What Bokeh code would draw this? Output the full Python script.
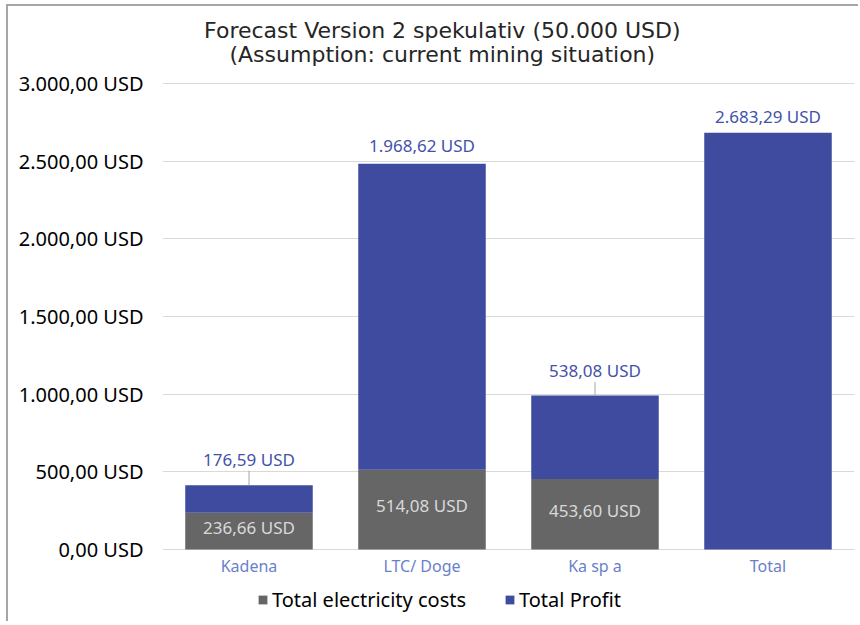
from bokeh.plotting import figure
from bokeh.models import (ColumnDataSource, FactorRange, Range1d, FixedTicker, LabelSet,
                          Label, Legend, LegendItem)
from bokeh.core.properties import value
from bokeh.embed import file_html
from bokeh.resources import INLINE

# ---- data ----
categories = ["Kadena", "LTC/ Doge", "Ka sp a", "Total"]
electricity = [236.66, 514.08, 453.60, 0.0]
profit = [176.59, 1968.62, 538.08, 2683.29]
y_ticks = [0, 500, 1000, 1500, 2000, 2500, 3000]
y_tick_labels = ["0,00 USD", "500,00 USD", "1.000,00 USD", "1.500,00 USD",
                 "2.000,00 USD", "2.500,00 USD", "3.000,00 USD"]
title_lines = ["Forecast Version 2 spekulativ (50.000 USD)",
               "(Assumption: current mining situation)"]
series_names = ["Total electricity costs", "Total Profit"]

# ---- styles ----
label_lift = [26, 18, 25, 16]        # px above bar top for the profit labels
leader = [True, False, True, False]  # labels that were moved and get a leader line
BLUE = "#3E4B9F"
GRAY = "#666666"
FONT = "Noto Sans"
PX = 3000 / 466                      # data units per pixel on the value axis


def de(v):
    s = f"{v:,.2f}".replace(",", "X").replace(".", ",").replace("X", ".")
    return s + " USD"


top = [e + q for e, q in zip(electricity, profit)]
src = ColumnDataSource(dict(
    x=categories,
    electricity=electricity,
    profit=profit,
    elec_mid=[e / 2 for e in electricity],
    top=top,
    label_y=[t + lf * PX for t, lf in zip(top, label_lift)],
    zero=[0] * len(categories),
    elec_label=[de(e) if e > 0 else "" for e in electricity],
    profit_label=[de(q) for q in profit],
))

p = figure(x_range=FactorRange(*categories, range_padding=0),
           y_range=Range1d(-74 * PX, 3000 + 77 * PX),
           width=852, height=617,
           output_backend="svg", toolbar_location=None,
           min_border_left=154, min_border_right=6,
           min_border_top=0, min_border_bottom=0)
p.margin = (4, 0, 0, 6)
p.styles = {"border-top": "2px solid #a6a6a6", "border-left": "2px solid #a6a6a6"}
p.outline_line_color = None
p.background_fill_color = "white"

renderers = p.vbar_stack(["electricity", "profit"], x="x", width=0.737, source=src,
                         color=[GRAY, BLUE], line_color=None)

# labels inside grey segments
p.add_layout(LabelSet(x="x", y="elec_mid", text="elec_label", source=src, y_offset=4,
                      text_align="center", text_baseline="middle",
                      text_color="#d9d9d9", text_font=value(FONT), text_font_size="17px"))

# leader lines
lsrc = ColumnDataSource(dict(
    x=[c for c, l in zip(categories, leader) if l],
    y0=[t for t, l in zip(top, leader) if l],
    y1=[t + (lf - 11) * PX for t, lf, l in zip(top, label_lift, leader) if l],
))
p.segment(x0="x", y0="y0", x1="x", y1="y1", source=lsrc, line_color="#a6a6a6", line_width=1)

p.add_layout(LabelSet(x="x", y="label_y", text="profit_label", source=src,
                      text_align="center", text_baseline="middle",
                      text_color="#4352A8", text_font=value(FONT), text_font_size="17px",
                      background_fill_color="white"))

# category labels under the bars
p.add_layout(LabelSet(x="x", y="zero", text="x", source=src, y_offset=-16,
                      text_align="center", text_baseline="middle",
                      text_color="#6A7FCB", text_font=value(FONT), text_font_size="16px"))

# axes
p.xaxis.visible = False
p.yaxis.ticker = FixedTicker(ticks=y_ticks)
p.yaxis.major_label_overrides = {t: l for t, l in zip(y_ticks, y_tick_labels)}
p.yaxis.axis_line_color = None
p.yaxis.major_tick_line_color = None
p.yaxis.major_tick_out = 0
p.yaxis.major_tick_in = 0
p.yaxis.minor_tick_line_color = None
p.yaxis.major_label_standoff = 19
p.yaxis.major_label_text_font = FONT
p.yaxis.major_label_text_font_size = "20px"
p.yaxis.major_label_text_color = "black"

p.xgrid.grid_line_color = None
p.ygrid.grid_line_color = "#d9d9d9"
p.ygrid.grid_line_width = 1

# two-line title
title_center = (441 - 162) / 172.5
for line, off in zip(title_lines, [53, 29]):
    p.add_layout(Label(x=title_center, y=3000, y_offset=off, text=line,
                       text_align="center", text_baseline="middle",
                       text_font="DejaVu Sans", text_font_size="22px",
                       text_color="#262626"))

legend = Legend(items=[LegendItem(label=series_names[0], renderers=[renderers[0]]),
                       LegendItem(label=series_names[1], renderers=[renderers[1]])],
                orientation="horizontal", location=(95, 10),
                label_text_font=FONT, label_text_font_size="20px", label_text_color="black",
                glyph_width=11, glyph_height=11, spacing=38, label_standoff=4,
                border_line_color=None, background_fill_alpha=0, padding=0, margin=0)
p.add_layout(legend)

open("out.html", "w").write(file_html(p, INLINE))
